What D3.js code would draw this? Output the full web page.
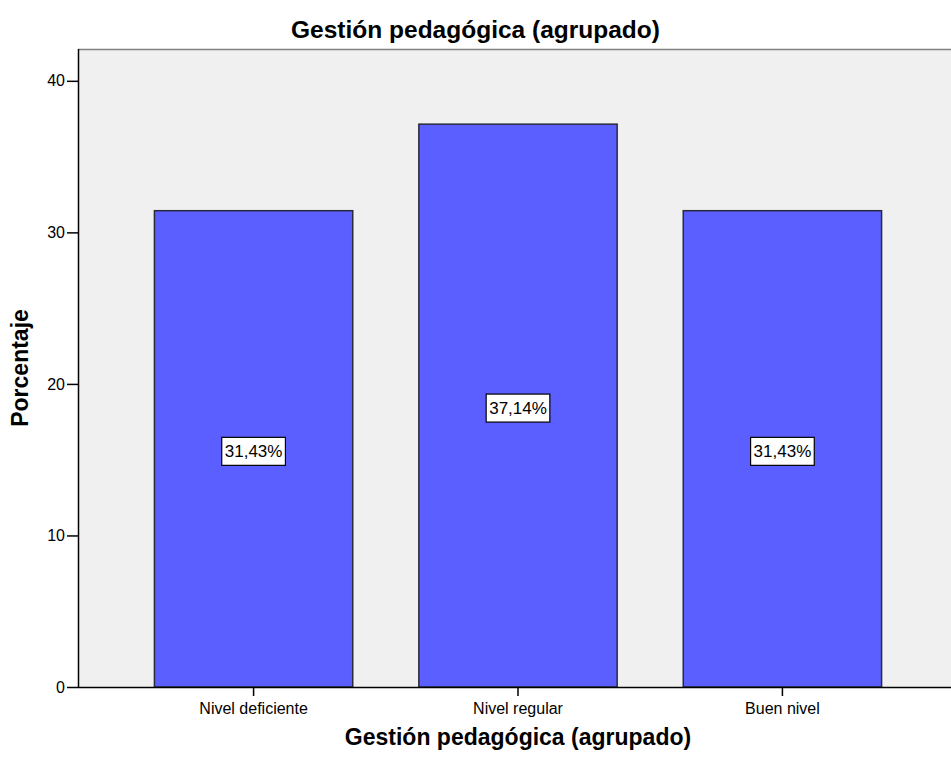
<!DOCTYPE html>
<html>
<head>
<meta charset="utf-8">
<script src="https://cdn.jsdelivr.net/npm/d3@7"></script>
<style>
  body { margin: 0; background: #fff; }
  svg { display: block; font-family: "Liberation Sans", Arial, sans-serif; }
</style>
</head>
<body>
<svg width="951" height="758"></svg>
<script>
var categories = ["Nivel deficiente", "Nivel regular", "Buen nivel"];
var percents = [31.43, 37.14, 31.43];
var labels = ["31,43%", "37,14%", "31,43%"];
var yTicks = [0, 10, 20, 30, 40];

var svg = d3.select("svg"),
    margin = {top: 49, right: -7, bottom: 71, left: 78},
    width = +svg.attr("width"),
    height = +svg.attr("height");

var x = d3.scaleBand()
    .domain(categories)
    .range([margin.left, width - margin.right])
    .paddingInner(0.25)
    .paddingOuter(0.289);

var y = d3.scaleLinear()
    .domain([0, 42.1])
    .range([height - margin.bottom, margin.top]);

var plotCenter = (margin.left + width - margin.right) / 2;

// plot background
svg.append("rect")
    .attr("x", margin.left)
    .attr("y", margin.top)
    .attr("width", width - margin.right - margin.left)
    .attr("height", y(0) - margin.top)
    .attr("fill", "#f0f0f0");

svg.append("line")
    .attr("x1", margin.left).attr("x2", width)
    .attr("y1", margin.top + 0.5).attr("y2", margin.top + 0.5)
    .attr("stroke", "#808080")
    .attr("stroke-width", 1.5);

// bars
svg.selectAll("rect.bar")
    .data(percents)
    .enter().append("rect")
    .attr("class", "bar")
    .attr("x", function(d, i) { return x(categories[i]); })
    .attr("y", function(d) { return y(d); })
    .attr("width", x.bandwidth())
    .attr("height", function(d) { return y(0) - y(d); })
    .attr("fill", "#5b5fff")
    .attr("stroke", "#2a2a3a")
    .attr("stroke-width", 1.5);

// value labels
var lab = svg.selectAll("g.lab")
    .data(percents)
    .enter().append("g")
    .attr("class", "lab")
    .attr("transform", function(d, i) {
        return "translate(" + (x(categories[i]) + x.bandwidth() / 2) + "," + (y(d / 2) + 2.5) + ")";
    });

lab.append("text")
    .attr("text-anchor", "middle")
    .attr("dy", "0.36em")
    .attr("font-size", 17)
    .attr("fill", "#000")
    .text(function(d, i) { return labels[i]; })
    .each(function() {
        var b = this.getBBox();
        d3.select(this.parentNode).insert("rect", "text")
            .attr("x", b.x - 3)
            .attr("y", -14)
            .attr("width", b.width + 6)
            .attr("height", 28)
            .attr("fill", "#fff")
            .attr("stroke", "#000")
            .attr("stroke-width", 1.2);
    });

// axes
var yAxis = svg.append("g")
    .attr("transform", "translate(" + margin.left + ",0)")
    .call(d3.axisLeft(y).tickValues(yTicks).tickSize(11).tickSizeOuter(0).tickPadding(2));

var xAxis = svg.append("g")
    .attr("transform", "translate(0," + y(0) + ")")
    .call(d3.axisBottom(x).tickSize(9).tickSizeOuter(0).tickPadding(7));

[yAxis, xAxis].forEach(function(g) {
    g.select(".domain").attr("stroke", "#000").attr("stroke-width", 1.5);
    g.selectAll(".tick line").attr("stroke", "#000").attr("stroke-width", 1.5);
    g.selectAll(".tick text")
        .attr("font-family", "Liberation Sans, Arial, sans-serif")
        .attr("font-size", 16)
        .attr("fill", "#000");
});
yAxis.select(".domain").attr("d", "M0.5," + margin.top + "V" + y(0));
xAxis.select(".domain").attr("d", "M" + margin.left + ",0.5H" + width);

// titles
svg.append("text")
    .attr("x", width / 2)
    .attr("y", 38)
    .attr("text-anchor", "middle")
    .attr("font-size", 24.5)
    .attr("font-weight", "bold")
    .text("Gestión pedagógica (agrupado)");

svg.append("text")
    .attr("x", plotCenter)
    .attr("y", 745)
    .attr("text-anchor", "middle")
    .attr("font-size", 23)
    .attr("font-weight", "bold")
    .text("Gestión pedagógica (agrupado)");

svg.append("text")
    .attr("transform", "translate(28,368) rotate(-90)")
    .attr("text-anchor", "middle")
    .attr("font-size", 23)
    .attr("font-weight", "bold")
    .text("Porcentaje");
</script>
</body>
</html>
